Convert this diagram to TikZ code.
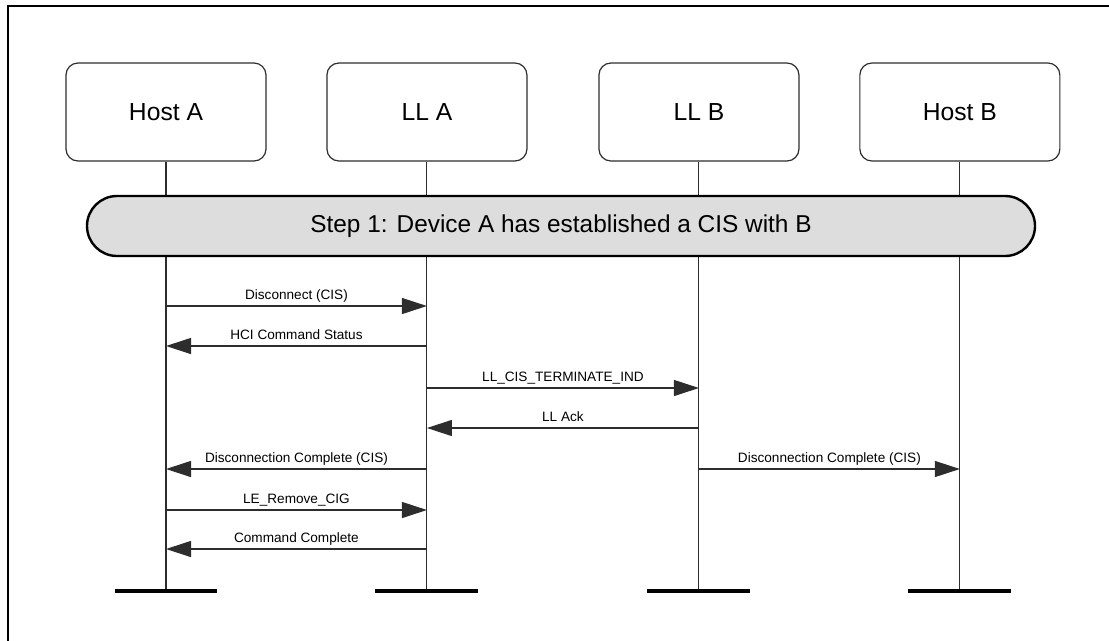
\documentclass[tikz,border=0pt]{standalone}
\usepackage{fontspec}
\setmainfont{Liberation Sans}
\usetikzlibrary{positioning,arrows.meta}
\definecolor{pillgray}{RGB}{221,221,221}
\definecolor{linegray}{RGB}{45,45,45}

\begin{document}
\begin{tikzpicture}[x=0.75pt,y=-0.75pt,>={Triangle[length=18.75pt,width=12pt]},
  ent/.style={draw=linegray,line width=0.9pt,rounded corners=9pt,minimum width=150pt,
    minimum height=73.5pt,font=\fontsize{18.5}{22}\selectfont},
  pill/.style={draw,fill=pillgray,line width=1.8pt,rounded corners=22.5pt,minimum width=711pt,
    minimum height=45pt,font=\fontsize{18.3}{22}\selectfont},
  life/.style={draw=linegray,line width=0.8pt},
  bar/.style={line width=2.3pt},
  msg/.style={->,line width=0.9pt,draw=linegray},
  lbl/.style={font=\fontsize{10.2}{12}\selectfont,anchor=base,yshift=5pt,inner sep=0pt}]
  \useasboundingbox (0,0) rectangle (1109,640);
  \draw[line width=1.9pt] (8,660) -- (8,6) -- (1130,6);

  % entities
  \node[ent] (ha) at (166,112) {Host A};
  \node[ent,right=44.8pt of ha] (la) {LL A};
  \node[ent,right=53.1pt of la] (lb) {LL B};
  \node[ent,right=44.8pt of lb] (hb) {Host B};

  % lifelines and end bars
  \foreach \n in {ha,la,lb,hb} {
    \coordinate (\n-end) at (\n.south |- 0,591);
    \draw[life] (\n.south) -- (\n-end);
    \draw[bar] ([xshift=-38.6pt]\n-end) -- ([xshift=38.6pt]\n-end);
  }

  \node[pill] (step) at (561,226) {Step 1: Device A has established a CIS with B};

  % messages
  \foreach \y/\a/\b/\t in {306/ha/la/Disconnect (CIS),
      346/la/ha/HCI Command Status,
      388/la/lb/LL\_CIS\_TERMINATE\_IND,
      428/lb/la/LL Ack,
      469/la/ha/Disconnection Complete (CIS),
      469/lb/hb/Disconnection Complete (CIS),
      510/ha/la/LE\_Remove\_CIG,
      549/la/ha/Command Complete}
    \draw[msg] (\a |- 0,\y) -- node[lbl]{\t} (\b |- 0,\y);
\end{tikzpicture}
\end{document}
